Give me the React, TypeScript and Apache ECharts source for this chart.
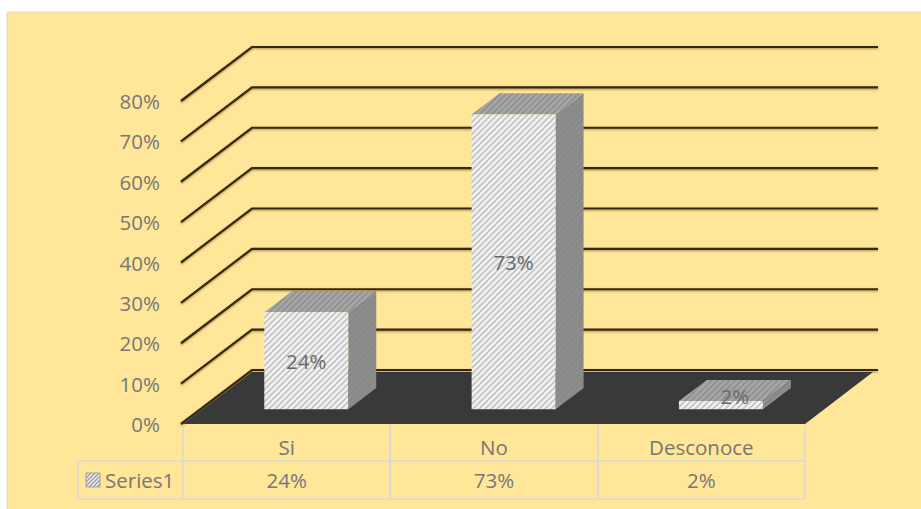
import React, { useEffect, useRef } from 'react';
import * as echarts from 'echarts';

const categories = ['Si', 'No', 'Desconoce'];
const values = [0.24, 0.73, 0.02];
const valueLabels = ['24%', '73%', '2%'];
const seriesName = 'Series1';
const yTicks = [0, 0.1, 0.2, 0.3, 0.4, 0.5, 0.6, 0.7, 0.8];

const FONT = '"Open Sans", sans-serif';
const FS = 20.5;
const TEXT = '#777777';
const DEPTH_X = 70;
const DEPTH_Y = -53;
const BAR_F1 = 0.28;
const BAR_F2 = 0.68;
const BAR_W = 0.405;
const TABLE_LINE = '#d9d9d9';

function makePattern(bg: string, stripe: string, size: number, lw: number) {
  const c = document.createElement('canvas');
  c.width = size;
  c.height = size;
  const ctx = c.getContext('2d')!;
  ctx.fillStyle = bg;
  ctx.fillRect(0, 0, size, size);
  ctx.strokeStyle = stripe;
  ctx.lineWidth = lw;
  ctx.beginPath();
  ctx.moveTo(-1, size + 1);
  ctx.lineTo(size + 1, -1);
  ctx.moveTo(-2, 2);
  ctx.lineTo(2, -2);
  ctx.moveTo(size - 2, size + 2);
  ctx.lineTo(size + 2, size - 2);
  ctx.stroke();
  return { image: c, repeat: 'repeat', imageWidth: size, imageHeight: size };
}

export default function App() {
  const ref = useRef<HTMLDivElement>(null);
  useEffect(() => {
    if (!ref.current) return;
    const chart = echarts.init(ref.current, undefined, { renderer: 'svg' });
    const frontPat = makePattern('#f5f5f5', '#c8c8c8', 6, 2);
    const topPat = makePattern('#a8a8a8', '#929292', 6, 2);
    const sidePat = makePattern('#8e8e8e', '#888888', 6, 2);
    const keyPat = makePattern('#eeeeee', '#9a9a9a', 4, 1.3);

    const option: any = {
      animation: false,
      backgroundColor: '#ffffff',
      graphic: [
        {
          type: 'rect',
          z: -10,
          silent: true,
          shape: { x: 7, y: 12, width: 920, height: 505 },
          style: { fill: '#FFE699', stroke: '#d9d9d9', lineWidth: 1 },
        },
      ],
      grid: { left: 183, right: 116, top: 101, bottom: 85 },
      xAxis: {
        type: 'category',
        data: categories,
        axisLine: { show: false },
        axisTick: { show: false },
        splitLine: { show: false },
        axisLabel: {
          color: TEXT,
          fontFamily: FONT,
          fontSize: FS,
          margin: 23,
          verticalAlign: 'middle',
        },
      },
      yAxis: {
        type: 'value',
        min: 0,
        max: 0.8,
        interval: 0.1,
        axisLine: { show: false },
        axisTick: { show: false },
        splitLine: { show: false },
        axisLabel: {
          color: TEXT,
          fontFamily: FONT,
          fontSize: FS,
          margin: 23,
          formatter: (v: number) => Math.round(v * 100) + '%',
        },
      },
      series: [
        {
          type: 'custom',
          name: 'grid3d',
          clip: false,
          silent: true,
          z: 1,
          data: yTicks.map((v) => [0, v]),
          encode: { x: 0, y: 1 },
          renderItem: (params: any, api: any) => {
            const cs = params.coordSys;
            const p = api.coord([0, api.value(1)]);
            const x0 = cs.x - 2;
            const y = p[1];
            return {
              type: 'polyline',
              shape: {
                points: [
                  [x0, y],
                  [x0 + DEPTH_X + 1, y + DEPTH_Y - 1],
                  [cs.x + cs.width + DEPTH_X + 3, y + DEPTH_Y - 1],
                ],
              },
              style: {
                stroke: '#33290f',
                lineWidth: 2.2,
                fill: null,
                shadowBlur: 2,
                shadowColor: 'rgba(110,80,10,0.6)',
                shadowOffsetY: 1,
              },
            };
          },
        },
        {
          type: 'custom',
          name: 'floor',
          clip: false,
          silent: true,
          z: 2,
          data: [[0, 0]],
          encode: { x: 0, y: 1 },
          renderItem: (params: any, api: any) => {
            const cs = params.coordSys;
            const p = api.coord([0, 0]);
            const y = p[1];
            const xl = cs.x;
            const xr = cs.x + cs.width;
            return {
              type: 'polygon',
              shape: {
                points: [
                  [xl, y],
                  [xr, y],
                  [xr + DEPTH_X - 2, y + DEPTH_Y + 1],
                  [xl + DEPTH_X - 1, y + DEPTH_Y + 1],
                ],
              },
              style: { fill: '#393939' },
            };
          },
        },
        {
          type: 'custom',
          name: seriesName,
          clip: false,
          z: 3,
          data: values.map((v, i) => [i, v]),
          encode: { x: 0, y: 1 },
          renderItem: (params: any, api: any) => {
            const i = api.value(0);
            const v = api.value(1);
            const top = api.coord([i, v]);
            const base = api.coord([i, 0]);
            const band = api.size([1, 0])[0];
            const w = band * BAR_W;
            const ox = DEPTH_X * BAR_F1;
            const oy = DEPTH_Y * BAR_F1;
            const dx = DEPTH_X * (BAR_F2 - BAR_F1);
            const dy = DEPTH_Y * (BAR_F2 - BAR_F1);
            const xL = top[0] - w / 2 + ox;
            const xR = xL + w;
            const yT = top[1] + oy;
            const yB = base[1] + oy;
            const small = yB - yT < 24;
            const lx = small ? (xL + xR + dx) / 2 : (xL + xR) / 2;
            const ly = small ? (yT + dy + yB) / 2 + 1 : (yT + yB) / 2;
            return {
              type: 'group',
              children: [
                {
                  type: 'polygon',
                  shape: { points: [[xR, yT], [xR + dx, yT + dy], [xR + dx, yB + dy], [xR, yB]] },
                  style: { fill: sidePat },
                },
                {
                  type: 'polygon',
                  shape: { points: [[xL, yT], [xL + dx, yT + dy], [xR + dx, yT + dy], [xR, yT]] },
                  style: { fill: topPat },
                },
                {
                  type: 'polygon',
                  shape: { points: [[xL, yT], [xR, yT], [xR, yB], [xL, yB]] },
                  style: { fill: frontPat },
                },
                {
                  type: 'text',
                  style: {
                    text: valueLabels[i],
                    x: lx,
                    y: ly,
                    align: 'center',
                    verticalAlign: 'middle',
                    fill: '#696969',
                    font: FS + 'px ' + FONT,
                  },
                },
              ],
            };
          },
        },
        {
          type: 'custom',
          name: 'table',
          clip: false,
          silent: true,
          z: 3,
          data: values.map((v, i) => [i, v]),
          encode: { x: 0, y: 1 },
          renderItem: (params: any, api: any) => {
            const i = api.value(0);
            const c = api.coord([i, 0]);
            const band = api.size([1, 0])[0];
            const x0 = c[0] - band / 2;
            const x1 = c[0] + band / 2;
            const yTop = c[1] + 1;
            const yMid = c[1] + 37;
            const yBot = c[1] + 75;
            const ls = { stroke: TABLE_LINE, lineWidth: 1.5 };
            const children: any[] = [
              { type: 'line', shape: { x1: x0, y1: yTop, x2: x0, y2: yBot }, style: ls },
              { type: 'line', shape: { x1: x1, y1: yTop, x2: x1, y2: yBot }, style: ls },
              { type: 'line', shape: { x1: x0, y1: yMid, x2: x1, y2: yMid }, style: ls },
              { type: 'line', shape: { x1: x0, y1: yBot, x2: x1, y2: yBot }, style: ls },
              {
                type: 'text',
                style: {
                  text: valueLabels[i],
                  x: c[0],
                  y: (yMid + yBot) / 2,
                  align: 'center',
                  verticalAlign: 'middle',
                  fill: TEXT,
                  font: FS + 'px ' + FONT,
                },
              },
            ];
            if (i === 0) {
              const hx = x0 - 105;
              children.push(
                { type: 'line', shape: { x1: hx, y1: yMid, x2: x0, y2: yMid }, style: ls },
                { type: 'line', shape: { x1: hx, y1: yBot, x2: x0, y2: yBot }, style: ls },
                { type: 'line', shape: { x1: hx, y1: yMid, x2: hx, y2: yBot }, style: ls },
                {
                  type: 'rect',
                  shape: { x: hx + 8, y: (yMid + yBot) / 2 - 7, width: 14, height: 14 },
                  style: { fill: keyPat, stroke: '#a0a0a0', lineWidth: 1 },
                },
                {
                  type: 'text',
                  style: {
                    text: seriesName,
                    x: hx + 27,
                    y: (yMid + yBot) / 2,
                    align: 'left',
                    verticalAlign: 'middle',
                    fill: TEXT,
                    font: FS + 'px ' + FONT,
                  },
                }
              );
            }
            return { type: 'group', children };
          },
        },
      ],
    };
    chart.setOption(option);
    return () => chart.dispose();
  }, []);
  return (
    <div
      ref={ref}
      style={{ position: 'absolute', left: 0, top: 0, width: 921, height: 509 }}
    />
  );
}
